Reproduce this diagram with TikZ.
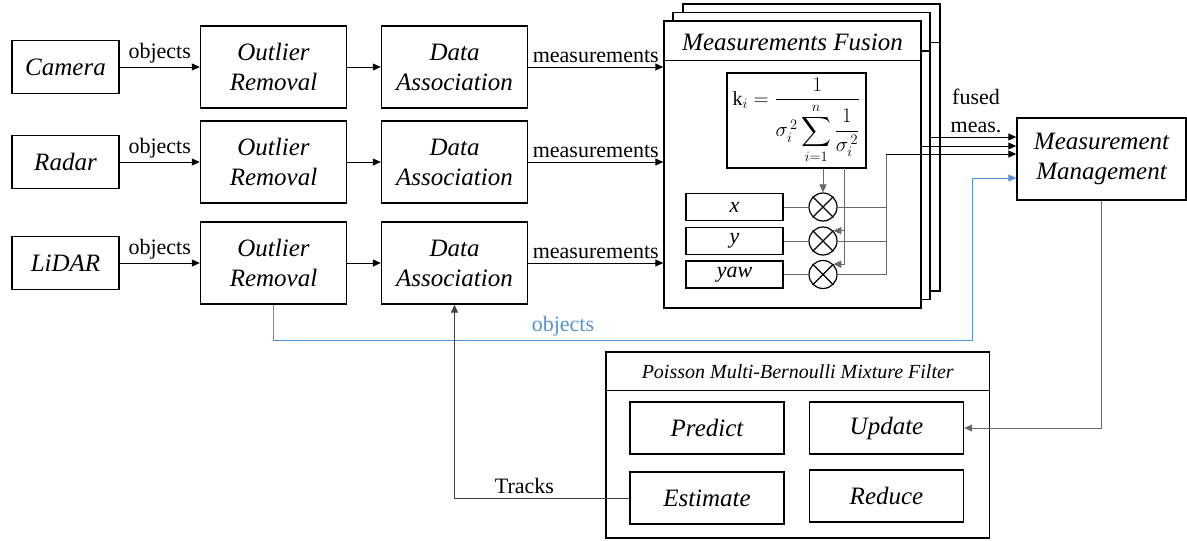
\documentclass[tikz,border=0pt]{standalone}
\usepackage{amsmath}
\usepackage{fontspec}
\setmainfont{LiberationSerif}[Extension=.ttf, UprightFont=*-Regular, ItalicFont=*-Italic, BoldFont=*-Bold, BoldItalicFont=*-BoldItalic]
\usetikzlibrary{arrows.meta, positioning}

\definecolor{objblue}{RGB}{86,146,214}
\definecolor{wiregray}{RGB}{105,105,105}

\begin{document}
\begin{tikzpicture}[x=1pt, y=-1pt, line width=1pt]
	\tikzset {>={Triangle[length=8pt,width=7pt]},
		block/.style={draw, line width=1.4pt, fill=white, align=center, inner sep=0pt, font=\itshape\fontsize{25}{30}\selectfont},
		sensor/.style={block, minimum width=107pt, minimum height=53pt},
		stage/.style={block, minimum width=146pt, minimum height=82pt},
		phase/.style={block, minimum width=154pt, minimum height=52pt},
		stack/.style={block, minimum width=257pt, minimum height=287pt},
		lbl/.style={font=\fontsize{22}{28}\selectfont},
		var/.style={draw, line width=1.2pt, minimum width=97pt, minimum height=27pt, inner sep=0pt, font=\itshape\fontsize{22}{26}\selectfont},
		mult/.style={draw, circle, line width=1.2pt, minimum size=28pt, inner sep=0pt},
		wire/.style={wiregray, line width=0.9pt} }
	\useasboundingbox (0,0) rectangle (1187,541);

	% sensors, outlier removal, data association
	\node[sensor] (cam) at (65.5,67) {Camera};
	\node[sensor] (rad) at (65.5,162) {Radar};
	\node[sensor] (lid) at (65.5,263) {LiDAR};
	\node[stage] (or1) at (273.5,67) {Outlier\\Removal};
	\node[stage] (or2) at (273.5,162) {Outlier\\Removal};
	\node[stage] (or3) at (273.5,263) {Outlier\\Removal};
	\node[stage] (da1) at (454.5,67) {Data\\Association};
	\node[stage] (da2) at (454.5,162) {Data\\Association};
	\node[stage] (da3) at (454.5,263) {Data\\Association};

	\node[block, minimum width=169pt, minimum height=82pt] (mm) at (1101.5,159) {Measurement\\Management};

	% stacked fusion blocks, back to front
	\node[stack] (fb) at (811.5,147.5) {};
	\draw[line width=1.4pt] ([yshift=-39pt]fb.north west) -- ([yshift=-39pt]fb.north east);
	\coordinate (bus3) at (905,137);
	\draw[->] (bus3) -- ([yshift=22pt]mm.west);
	\node[stack] (fm) at (801.5,156) {};
	\draw[line width=1.4pt] ([yshift=-39pt]fm.north west) -- ([yshift=-39pt]fm.north east);
	\coordinate (bus2) at (895,146);
	\draw[->] (bus2) -- ([yshift=13pt]mm.west);
	\node[stack] (ff) at (792.5,164.5) {};
	\draw[line width=1.4pt] ([yshift=-40pt]ff.north west) -- ([yshift=-40pt]ff.north east);
	\node[font=\itshape\fontsize{25}{30}\selectfont] (ft) at (792.5,42) {Measurements Fusion};

	\node[draw, line width=1.2pt, minimum width=139pt, minimum height=95pt, inner sep=0pt, font=\fontsize{20}{24}\selectfont] (kf) at (796.5,120.5)
		{$\mathrm{k}_{i}=\dfrac{1}{\rule{0pt}{1.45em}\sigma_{i}^{\,2}\displaystyle\sum_{i=1}^{n}\dfrac{1}{\sigma_{i}^{\,2}}}$};

	\coordinate (bus) at (886,154);
	\foreach \v/\n/\yy in {x/1/207, y/2/241, yaw/3/274.5} {
		\node[var] (v\n) at (734.5,\yy) {\v};
		\node[mult] (m\n) at (823,\yy) {};
		\draw[line width=1.2pt] (m\n.north west) -- (m\n.south east) (m\n.north east) -- (m\n.south west);
		\draw[wire] (v\n) -- (m\n);
		\draw[wire] (m\n.east) -| (bus);
	}
	\draw[->] (bus) -- ([yshift=5pt]mm.west);
	\draw[wire, ->] (kf.south -| m1) -- (m1.north);
	\coordinate (kw) at (844,168);
	\draw[wire, ->] (kw) |- (m3.north east);
	\draw[wire, ->] (kw |- m2.north east) -- (m2.north east);
	\node[lbl, align=center] (fz) at (976,111) {fused\\meas.};

	% sensor rows
	\foreach \s/\o/\d in {cam/or1/da1, rad/or2/da2, lid/or3/da3} {
		\draw[->] (\s) -- node[lbl, above] {objects} (\o);
		\draw[->] (\o) -- (\d);
		\draw[->] (\d) -- node[lbl, above] {measurements} (\d -| ff.west);
	}

	% raw objects to management
	\coordinate (ob) at (972,340);
	\draw[objblue, ->] (or3.south) |- (ob) |- ([yshift=-19pt]mm.west);
	\node[lbl, text=objblue] (obl) at (563,326) {objects};

	% PMBM filter
	\node[block, minimum width=383.5pt, minimum height=186pt] (pm) at (797.75,445) {};
	\draw[line width=1.4pt] ([yshift=-39pt]pm.north west) -- ([yshift=-39pt]pm.north east);
	\node[font=\itshape\fontsize{20}{24}\selectfont] (pt) at (797.75,371.5) {Poisson Multi-Bernoulli Mixture Filter};
	\node[phase] (pr) at (707,428) {Predict};
	\node[phase] (up) at (886.5,428) {Update};
	\node[phase] (es) at (707,498) {Estimate};
	\node[phase] (rd) at (886.5,496) {Reduce};

	\draw[wire, ->] (mm.south) |- (up.east);
	\draw[black!75, ->] (es.west) -| node[lbl, pos=0.3, above, text=black] {Tracks} (da3.south);
\end{tikzpicture}
\end{document}
